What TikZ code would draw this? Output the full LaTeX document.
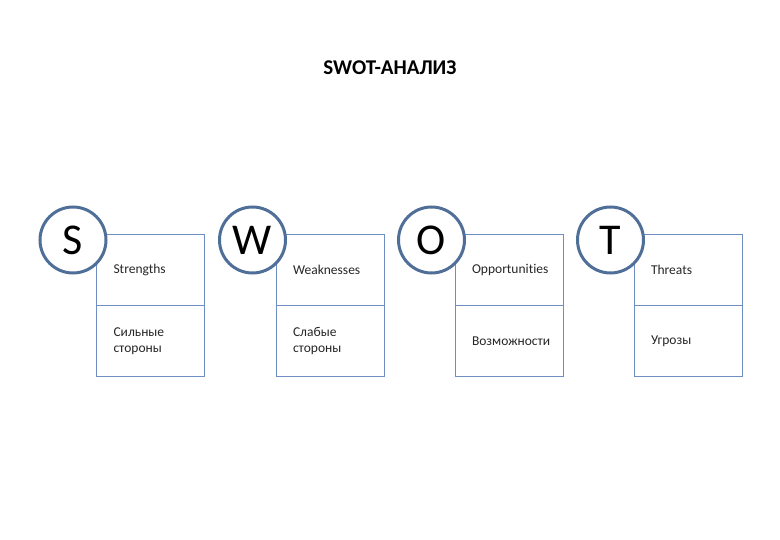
\documentclass[tikz,border=0pt]{standalone}
\usepackage{fontspec}
\setmainfont[Ligatures=CommonOff]{Carlito}
\begin{document}
\begin{tikzpicture}[x=1pt,y=-1pt,
  cell/.style={draw=boxc,line width=1.3pt,minimum width=108pt,minimum height=71pt,anchor=north west,inner sep=0pt},
  lab/.style={anchor=west,font=\fontsize{13.5}{15.5}\selectfont,align=left,text=black!85},
  circ/.style={circle,draw=circc,line width=3pt,fill=white,minimum size=66pt,inner sep=0pt,font=\fontsize{44}{44}\selectfont}]
\definecolor{boxc}{HTML}{6F8FC4}
\definecolor{circc}{HTML}{4F6F98}
\useasboundingbox (0,0) rectangle (780,540);
\node[font=\bfseries\fontsize{21}{21}\selectfont] (title) at (390,68) {SWOT-АНАЛИЗ};
\foreach \i/\x/\L/\a/\b in {1/96/S/Strengths/{Сильные\\стороны},2/275.5/W/Weaknesses/{Слабые\\стороны},3/454.5/O/Opportunities/{Возможности},4/633.5/T/Threats/{Угрозы}}{
  \node[cell] (top\i) at (\x,234) {};
  \node[cell] (bot\i) at (\x,305) {};
  \node[lab] (la\i) at (\x+14,270) {\a};
  \node[lab] (lb\i) at (\x+14,341) {\b};
  \node[circ] (c\i) at (\x-23,240) {\L};
}
\end{tikzpicture}
\end{document}
